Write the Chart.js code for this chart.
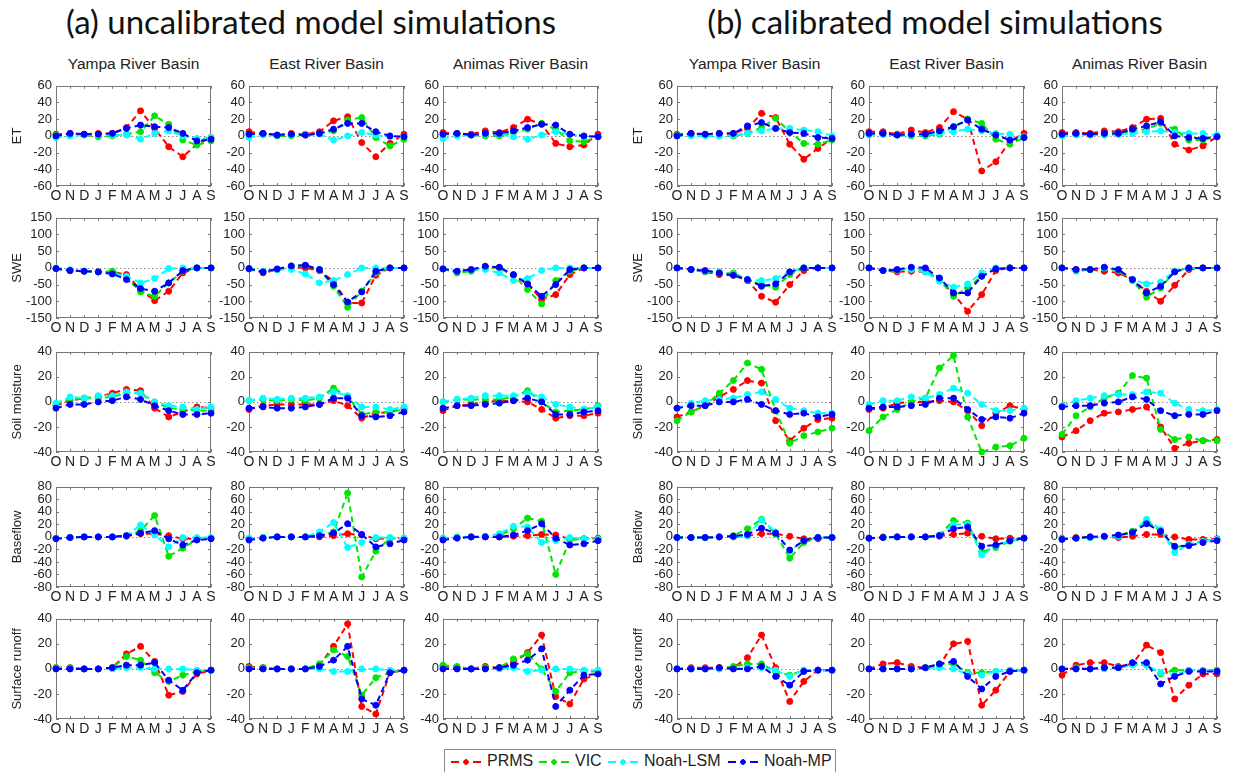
<!DOCTYPE html>
<html>
<head>
<meta charset="utf-8">
<script src="https://cdn.jsdelivr.net/npm/chart.js@4.4.0/dist/chart.umd.min.js"></script>
<style>
  body { margin: 0; background: #fff; }
  #page { position: relative; width: 1240px; height: 772px; overflow: hidden;
          font-family: "Liberation Sans", Arial, sans-serif; color: #222; }
  #page canvas { position: absolute; }
  .bigTitle { position: absolute; top: 1px; width: 600px; text-align: center;
              font-family: Lato, "Open Sans", sans-serif; font-size: 33px; color: #111; }
  .basin { position: absolute; width: 180px; text-align: center; font-size: 15.5px; color: #222; }
  #legend { position: absolute; left: 444px; top: 749px; width: 392px; height: 40px;
            border: 1px solid #888; box-sizing: border-box; background: #fff; }
  #legend .item { position: absolute; top: 2px; font-size: 16px; white-space: nowrap; }
  #legend .key { display: inline-block; width: 30px; height: 8px; margin-right: 6px; vertical-align: middle;
    background:
      radial-gradient(circle, var(--c) 2.5px, transparent 3px) center / 8px 8px no-repeat,
      linear-gradient(var(--c), var(--c)) left center / 8px 2px no-repeat,
      linear-gradient(var(--c), var(--c)) right center / 8px 2px no-repeat; }
</style>
</head>
<body>
<div id="page">
  <div class="bigTitle" style="left:11px">(a) uncalibrated model simulations</div>
  <div class="bigTitle" style="left:635px">(b) calibrated model simulations</div>
  <div id="legend"></div>
</div>
<script>
const MONTHS = ['O', 'N', 'D', 'J', 'F', 'M', 'A', 'M', 'J', 'J', 'A', 'S'];
const MODELS = ['PRMS', 'VIC', 'Noah-LSM', 'Noah-MP'];
const COLORS = ['#ff0000', '#00e600', '#00ffff', '#0000ff'];
const BASINS = ['Yampa River Basin', 'East River Basin', 'Animas River Basin'];
const VARIABLES = ['ET', 'SWE', 'Soil moisture', 'Baseflow', 'Surface runoff'];

// y tick labels per variable row
const ET_TICKS = [-60, -40, -20, 0, 20, 40, 60];
const SWE_TICKS = [-150, -100, -50, 0, 50, 100, 150];
const SOIL_TICKS = [-40, -20, 0, 20, 40];
const BASE_TICKS = [-80, -60, -40, -20, 0, 20, 40, 60, 80];
const SURF_TICKS = [-40, -20, 0, 20, 40];

// each panel: rows are PRMS, VIC, Noah-LSM, Noah-MP (O..S)
const etUncalYampa = [
  [2, 3, 2, 3, 3, 10, 30, 9, -13, -25, -10, -2],
  [1, 2, 1, -1, 0, 2, 5, 24, 14, -5, -11, -6],
  [-2, 0, 1, 1, 1, 1, -4, 3, 6, 0, -3, -2],
  [0, 3, 2, 2, 3, 9, 13, 11, 10, 3, -6, -4]];
const etUncalEast = [
  [5, 3, 1, 3, 2, 5, 18, 23, -8, -25, -9, 2],
  [2, 2, 0, 0, 1, 3, 6, 19, 22, -2, -12, -4],
  [-2, 1, 1, 1, 2, 2, -5, 0, 4, 1, -1, -1],
  [2, 3, 1, 2, 1, 3, 8, 15, 15, 5, 0, -1]];
const etUncalAnimas = [
  [4, 3, 2, 6, 4, 10, 20, 14, -9, -13, -11, 2],
  [2, 2, 1, 0, 0, 4, 8, 15, 8, -6, -7, -1],
  [-3, 0, 1, 2, 2, -1, -4, 1, 5, 2, -1, -1],
  [2, 3, 1, 3, 3, 6, 10, 14, 13, 2, 0, -1]];
const etCalYampa = [
  [2, 3, 2, 3, 3, 9, 27, 22, -10, -28, -15, -3],
  [1, 2, 1, 0, 0, 3, 10, 21, 5, -9, -10, -5],
  [0, 0, 0, 0, 1, 3, 6, 9, 9, 7, 5, 0],
  [0, 3, 2, 3, 3, 12, 16, 9, 4, 3, -2, -3]];
const etCalEast = [
  [5, 5, 2, 7, 4, 10, 29, 20, -42, -31, -6, 3],
  [2, 2, 1, 0, 0, 2, 11, 20, 15, -4, -10, -2],
  [1, 2, 1, 1, 1, 3, 5, 8, 6, 3, 2, -1],
  [3, 3, 1, 2, 2, 6, 11, 19, 8, 1, -5, -2]];
const etCalAnimas = [
  [4, 4, 3, 6, 5, 10, 20, 21, -10, -17, -12, -1],
  [2, 2, 1, 1, 2, 6, 8, 15, 8, -5, -5, -1],
  [0, 1, 1, 1, 2, 3, 5, 6, 4, 3, 3, 1],
  [2, 3, 2, 3, 3, 8, 12, 17, 0, -2, -3, -1]];

const sweUncalYampa = [
  [-2, -8, -10, -12, -12, -20, -65, -98, -70, -15, 0, 0],
  [-2, -8, -10, -12, -10, -28, -72, -85, -45, -10, 0, 0],
  [0, -5, -10, -12, -18, -25, -45, -32, -2, 0, 0, 0],
  [-2, -8, -10, -12, -18, -35, -62, -70, -45, -8, 0, 0]];
const sweUncalEast = [
  [-3, -15, -5, 2, 0, -8, -40, -105, -105, -22, 0, 0],
  [-3, -12, -5, 5, 8, -5, -55, -118, -70, -15, 0, 0],
  [-2, -10, -5, -5, -18, -45, -38, -20, 0, 0, 0, 0],
  [-2, -12, -3, 6, 8, -5, -50, -102, -72, -10, 0, 0]];
const sweUncalAnimas = [
  [-3, -12, -8, 2, 0, -22, -48, -95, -80, -20, 0, 0],
  [-3, -15, -10, 2, 0, -22, -65, -108, -38, -10, 0, 0],
  [-2, -10, -5, -5, -15, -38, -32, -8, 0, 0, 0, 0],
  [-3, -10, -5, 5, 2, -20, -48, -85, -50, -5, 0, 0]];
const sweCalYampa = [
  [0, -5, -12, -20, -22, -38, -85, -103, -50, -8, 0, 0],
  [0, -5, -10, -15, -15, -35, -50, -58, -20, 0, 0, 0],
  [0, -5, -10, -12, -20, -35, -38, -32, -12, 0, 0, 0],
  [0, -5, -8, -15, -22, -35, -55, -48, -12, 0, 0, 0]];
const sweCalEast = [
  [0, -8, -12, -10, -12, -35, -78, -130, -80, -8, 0, 0],
  [0, -8, -8, -3, -8, -35, -85, -60, -25, -3, 0, 0],
  [0, -8, -5, -5, -12, -40, -58, -48, -15, 0, 0, 0],
  [0, -8, -5, 2, 0, -30, -75, -75, -25, -3, 0, 0]];
const sweCalAnimas = [
  [0, -5, -5, -10, -15, -35, -70, -100, -52, -5, 0, 0],
  [0, -10, -5, 0, -8, -38, -88, -60, -10, 0, 0, 0],
  [0, -8, -5, 0, -5, -35, -48, -42, -10, 0, 0, 0],
  [0, -5, -5, 2, -5, -35, -75, -55, -12, 0, 0, 0]];

const soilUncalYampa = [
  [-3, 1, 3, 4, 7, 10, 9, -5, -12, -8, -4, -5],
  [-2, 2, 3, 3, 4, 7, 7, 0, -5, -6, -7, -7],
  [-1, 4, 3, 5, 5, 8, 7, 0, -3, -4, -6, -4],
  [-5, -2, -2, 0, 1, 4, 2, -3, -7, -10, -10, -9]];
const soilUncalEast = [
  [-6, -3, -2, -2, -2, -2, 1, -3, -13, -9, -8, -5],
  [1, 2, 1, 2, 1, 3, 11, 4, -10, -8, -8, -6],
  [1, 3, 2, 3, 3, 4, 8, 5, -4, -4, -6, -4],
  [-5, -4, -5, -5, -4, -2, 3, 3, -11, -12, -11, -8]];
const soilUncalAnimas = [
  [-7, -3, -2, 0, 1, 1, 0, -6, -13, -11, -11, -9],
  [0, 2, 2, 2, 2, 4, 9, 0, -8, -7, -6, -3],
  [0, 2, 3, 5, 5, 5, 7, 4, -2, -4, -6, -4],
  [-5, -3, -3, -2, -1, 1, 3, 0, -10, -10, -8, -7]];
const soilCalYampa = [
  [-12, -8, -3, 4, 10, 17, 15, -15, -31, -21, -14, -13],
  [-15, -8, -3, 7, 17, 31, 26, -7, -33, -27, -24, -21],
  [-5, -1, 1, 2, 3, 6, 8, 2, -5, -7, -9, -9],
  [-5, -3, -3, 0, 0, 2, -2, -7, -10, -9, -12, -10]];
const soilCalEast = [
  [-6, -5, -1, 0, 0, 1, 0, -7, -19, -9, -3, -6],
  [-23, -12, -6, 0, 3, 27, 37, -12, -40, -36, -35, -29],
  [-2, 1, 1, 4, 3, 6, 11, 7, -2, -7, -7, -5],
  [-5, -4, -4, -3, -2, 3, 3, -6, -14, -12, -13, -9]];
const soilCalAnimas = [
  [-28, -23, -15, -9, -8, -6, -4, -20, -37, -33, -31, -30],
  [-26, -11, -4, 3, 7, 21, 19, -22, -30, -28, -31, -31],
  [-3, 1, 3, 5, 6, 6, 8, 7, -1, -6, -7, -6],
  [-4, -3, -3, -1, 0, 4, 2, -7, -11, -10, -10, -7]];

const baseUncalYampa = [
  [-2, -1, 0, 0, 0, 1, 5, 5, 2, -3, -3, -2],
  [-2, -1, 0, 0, 0, 2, 10, 34, -31, -18, -4, -2],
  [-2, -1, 0, 0, 0, 2, 19, 3, -16, -1, -1, -1],
  [-3, -1, 0, 0, 0, 2, 6, 10, -3, -13, -5, -3]];
const baseUncalEast = [
  [-3, -1, 0, 0, 0, 0, 2, 5, 3, -3, -2, -2],
  [-2, -1, 0, 0, 0, 2, 8, 70, -64, -23, -2, -3],
  [-2, -1, 0, 0, 0, 8, 23, -17, -9, -1, -1, -2],
  [-5, -2, 0, 0, 0, 2, 6, 21, 4, -16, -11, -5]];
const baseUncalAnimas = [
  [-3, -1, 0, 0, 0, 1, 2, 4, 3, -3, -3, -2],
  [-2, 0, 0, 1, 2, 13, 30, 25, -60, -5, -3, -3],
  [-2, 0, 0, 1, 5, 17, 16, -9, -6, -1, -3, -4],
  [-5, -2, 0, 0, 0, 3, 10, 21, -2, -13, -11, -6]];
const baseCalYampa = [
  [-1, -1, -1, 0, 0, 2, 5, 5, 1, -3, -3, -1],
  [-1, -1, -1, 0, 2, 13, 28, 5, -34, -9, -1, -1],
  [-1, -1, -1, 0, 0, 2, 27, 8, -23, -6, -1, -1],
  [-1, -1, -1, 0, 1, 4, 14, 6, -21, -6, -1, -1]];
const baseCalEast = [
  [-2, 0, 0, 0, 0, 1, 4, 6, 1, -3, -2, -2],
  [-2, -1, 0, 0, 0, 3, 26, 22, -24, -17, -7, -2],
  [-2, -1, 0, 0, 0, 2, 20, 20, -29, -14, -6, -2],
  [-2, -1, 0, 0, 0, 2, 13, 16, -15, -13, -6, -2]];
const baseCalAnimas = [
  [-2, -1, 0, 0, -1, 1, 4, 4, 0, -4, -4, -3],
  [-3, -2, -1, 0, 2, 9, 25, 10, -17, -12, -7, -4],
  [-3, -2, -1, 0, 1, 7, 28, 12, -25, -12, -7, -4],
  [-4, -2, 0, 1, 3, 7, 21, 9, -15, -14, -9, -6]];

const surfUncalYampa = [
  [1, 1, 0, 0, 1, 12, 18, 6, -21, -18, -4, -1],
  [1, 1, 0, 0, 1, 10, 7, -3, -10, -5, -2, -1],
  [0, 0, 0, 0, 0, 1, 1, 0, 0, 0, -1, -1],
  [0, 0, 0, 0, 1, 3, 3, 5, -9, -17, -3, -1]];
const surfUncalEast = [
  [2, 1, 0, 0, 0, 3, 18, 36, -30, -36, -3, -1],
  [1, 1, 0, 0, 0, 4, 15, 10, -21, -7, -3, -1],
  [0, 0, 0, 0, 0, 0, -2, -2, 0, 0, -1, -1],
  [0, 0, 0, 0, 0, 2, 7, 18, -24, -29, -3, -1]];
const surfUncalAnimas = [
  [2, 1, 0, 2, 1, 5, 13, 27, -22, -28, -8, -4],
  [3, 2, 0, 1, 1, 8, 12, 0, -18, -3, -2, -2],
  [0, 0, 0, 0, 0, 1, -2, -1, 0, 0, -1, -1],
  [0, 0, 0, 0, 1, 3, 7, 16, -30, -17, -5, -4]];
const surfCalYampa = [
  [0, 1, 1, 1, 1, 9, 27, 1, -26, -10, -1, -1],
  [0, 0, 0, 0, 2, 4, 4, -2, -5, -1, -1, -1],
  [0, 0, 0, 0, 0, 1, 1, -1, -6, -1, -1, -1],
  [0, 0, 0, 1, 0, 0, 2, -6, -13, -2, -1, -1]];
const surfCalEast = [
  [0, 4, 5, 2, 1, 3, 20, 22, -29, -17, -2, -1],
  [0, 0, 0, 0, 1, 4, 4, -3, -3, -2, -1, -1],
  [0, 0, 0, 0, 1, 1, 0, -4, -5, -2, -1, -1],
  [0, 0, 0, 0, 1, 4, 6, -6, -16, -6, -2, -1]];
const surfCalAnimas = [
  [-5, 3, 5, 5, 2, 4, 19, 13, -24, -13, -4, -4],
  [0, 1, 0, 1, 1, 4, 3, -4, -1, -1, -1, -1],
  [0, 0, 0, 0, 1, 3, 3, -3, -5, -1, -1, -2],
  [0, 0, 0, 1, 1, 5, 5, -12, -6, -2, -2, -2]];

// grid of panels: one row per variable, columns = uncalibrated x3, calibrated x3
const ROWS = [
  { ticks: ET_TICKS,   panels: [etUncalYampa, etUncalEast, etUncalAnimas, etCalYampa, etCalEast, etCalAnimas] },
  { ticks: SWE_TICKS,  panels: [sweUncalYampa, sweUncalEast, sweUncalAnimas, sweCalYampa, sweCalEast, sweCalAnimas] },
  { ticks: SOIL_TICKS, panels: [soilUncalYampa, soilUncalEast, soilUncalAnimas, soilCalYampa, soilCalEast, soilCalAnimas] },
  { ticks: BASE_TICKS, panels: [baseUncalYampa, baseUncalEast, baseUncalAnimas, baseCalYampa, baseCalEast, baseCalAnimas] },
  { ticks: SURF_TICKS, panels: [surfUncalYampa, surfUncalEast, surfUncalAnimas, surfCalYampa, surfCalEast, surfCalAnimas] }
];

// plot box geometry
const COL_LEFT = [56, 249, 443, 677, 869, 1062];
const ROW_TOP = [80, 212, 346, 481, 613];
const BOX_W = 155, BOX_H = 106;
const PAD_TOP = 6, PAD_RIGHT = 9, X_AXIS_H = 20;

// dotted zero line, box and inward tick marks like a MATLAB axes
const matlabAxes = {
  id: 'matlabAxes',
  beforeDatasetsDraw(chart) {
    const { ctx, chartArea: a, scales: { x, y } } = chart;
    ctx.save();
    const y0 = Math.round(y.getPixelForValue(0)) + 0.5;
    ctx.strokeStyle = '#8c8c8c';
    ctx.lineWidth = 1;
    ctx.setLineDash([1.5, 2.5]);
    ctx.beginPath();
    ctx.moveTo(a.left, y0);
    ctx.lineTo(a.right, y0);
    ctx.stroke();
    ctx.setLineDash([]);
    ctx.strokeStyle = '#777';
    ctx.strokeRect(Math.round(a.left) + 0.5, Math.round(a.top) + 0.5,
                   Math.round(a.width) - 1, Math.round(a.height) - 1);
    ctx.beginPath();
    y.ticks.forEach((t, i) => {
      const py = Math.round(y.getPixelForTick(i)) + 0.5;
      ctx.moveTo(a.left, py); ctx.lineTo(a.left + 3, py);
      ctx.moveTo(a.right, py); ctx.lineTo(a.right - 3, py);
    });
    x.ticks.forEach((t, i) => {
      const px = Math.round(x.getPixelForTick(i)) + 0.5;
      ctx.moveTo(px, a.bottom); ctx.lineTo(px, a.bottom - 3);
      ctx.moveTo(px, a.top); ctx.lineTo(px, a.top + 3);
    });
    ctx.stroke();
    ctx.restore();
  }
};

function makePanel(row, col) {
  const { ticks, panels } = ROWS[row];
  const series = panels[col];
  const firstCol = col === 0 || col === 3;
  const yAxisW = firstCol ? 50 : 40;
  const canvas = document.createElement('canvas');
  canvas.width = yAxisW + BOX_W + PAD_RIGHT;
  canvas.height = PAD_TOP + BOX_H + X_AXIS_H;
  canvas.style.left = (COL_LEFT[col] - yAxisW) + 'px';
  canvas.style.top = (ROW_TOP[row] - PAD_TOP) + 'px';
  document.getElementById('page').appendChild(canvas);

  new Chart(canvas.getContext('2d'), {
    type: 'line',
    data: {
      labels: MONTHS,
      datasets: series.map((vals, i) => ({
        label: MODELS[i],
        data: vals,
        borderColor: COLORS[i],
        backgroundColor: COLORS[i],
        pointBackgroundColor: COLORS[i],
        pointBorderColor: COLORS[i],
        borderWidth: 2,
        borderDash: [6, 4],
        pointRadius: 3,
        pointBorderWidth: 1,
        tension: 0,
        clip: false,
        order: MODELS.length - 1 - i
      }))
    },
    options: {
      responsive: false,
      animation: false,
      devicePixelRatio: 1,
      layout: { autoPadding: false, padding: { top: PAD_TOP, right: PAD_RIGHT, left: 0, bottom: 0 } },
      plugins: { legend: { display: false }, tooltip: { enabled: false } },
      scales: {
        x: {
          grid: { display: false, drawTicks: false, tickLength: 0 },
          border: { display: false },
          ticks: { autoSkip: false, maxRotation: 0, minRotation: 0, padding: 2, color: '#222',
                   font: { family: 'Liberation Sans', size: 14 } },
          afterFit: s => { s.height = X_AXIS_H; }
        },
        y: {
          min: ticks[0],
          max: ticks[ticks.length - 1],
          afterBuildTicks: s => { s.ticks = ticks.map(v => ({ value: v })); },
          grid: { display: false, drawTicks: false, tickLength: 0 },
          border: { display: false },
          ticks: { autoSkip: false, padding: 4, color: '#222', font: { family: 'Liberation Sans', size: 13 } },
          title: {
            display: firstCol,
            text: VARIABLES[row],
            color: '#222',
            padding: { top: 4, bottom: 0 },
            font: { family: 'Liberation Sans', size: 13 }
          },
          afterFit: s => { s.width = yAxisW; }
        }
      }
    },
    plugins: [matlabAxes]
  });
}

document.addEventListener('DOMContentLoaded', function() {
  const page = document.getElementById('page');

  // basin names above the first row
  COL_LEFT.forEach((left, col) => {
    const div = document.createElement('div');
    div.className = 'basin';
    div.textContent = BASINS[col % 3];
    div.style.left = (left + BOX_W / 2 - 90) + 'px';
    div.style.top = '55px';
    page.appendChild(div);
  });

  for (let r = 0; r < ROWS.length; r++) {
    for (let c = 0; c < 6; c++) makePanel(r, c);
  }

  // legend
  const legend = document.getElementById('legend');
  const keyX = [6, 94, 163, 283];
  MODELS.forEach((name, i) => {
    const item = document.createElement('span');
    item.className = 'item';
    item.style.left = keyX[i] + 'px';
    item.innerHTML = `<i class="key" style="--c:${COLORS[i]}"></i>${name}`;
    legend.appendChild(item);
  });
});
</script>
</body>
</html>
